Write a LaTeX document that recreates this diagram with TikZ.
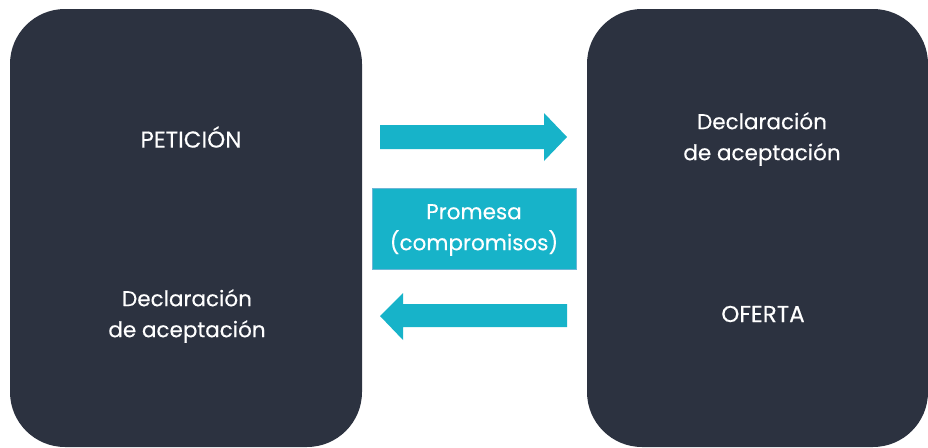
\documentclass[tikz,border=0pt]{standalone}
\usepackage{fontspec}
\setmainfont{Poppins}[FakeBold=0.3]
\definecolor{panel}{HTML}{2C3240}
\definecolor{cyanfill}{HTML}{17B3C9}
\definecolor{cyanedge}{HTML}{6CB6D6}
\begin{document}
\begin{tikzpicture}[x=1pt,y=-1pt,
  panelbox/.style={fill=panel,draw=none,rounded corners=55pt},
  lbl/.style={text=white,font=\fontsize{21.5}{31}\selectfont,align=center,inner sep=0pt},
  caplbl/.style={lbl,font=\fontsize{23}{31}\selectfont},
  blockarrow/.style={fill=cyanfill,draw=none}]
\useasboundingbox (0,0) rectangle (928,447);
\fill[panelbox] (10,9) rectangle (362,447);
\fill[panelbox] (587,9) rectangle (928,447);
% right arrow
\fill[blockarrow] (380,125) -- (544,125) -- (544,113) -- (567,137) -- (544,161) -- (544,149) -- (380,149) -- cycle;
% left arrow
\fill[blockarrow] (567,304) -- (403,304) -- (403,293) -- (380,316) -- (403,340) -- (403,327) -- (567,327) -- cycle;
\node[fill=cyanfill,draw=cyanedge,line width=0.8pt,minimum width=204pt,minimum height=81pt,anchor=north west] (prom) at (372,188) {};
\node[lbl] (promt) at (474,230) {Promesa\\(compromisos)};
\node[caplbl] (pet) at (191,137) {PETICIÓN};
\node[lbl] (dl) at (187,316) {Declaración\\de aceptación};
\node[lbl] (dr) at (762,139) {Declaración\\de aceptación};
\node[caplbl] (of) at (763,314) {OFERTA};
\end{tikzpicture}
\end{document}
